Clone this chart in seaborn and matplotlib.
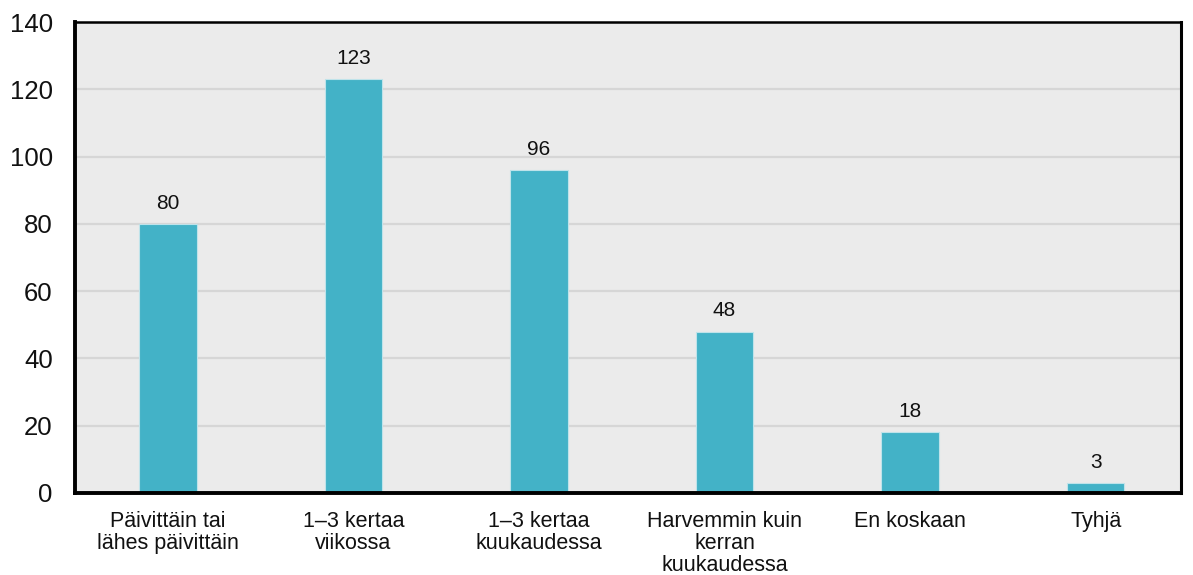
import matplotlib
matplotlib.use("Agg")
import matplotlib.pyplot as plt
import seaborn as sns
import pandas as pd

categories = [
    "Päivittäin tai\nlähes päivittäin",
    "1–3 kertaa\nviikossa",
    "1–3 kertaa\nkuukaudessa",
    "Harvemmin kuin\nkerran\nkuukaudessa",
    "En koskaan",
    "Tyhjä",
]
values = [80, 123, 96, 48, 18, 3]
y_ticks = [0, 20, 40, 60, 80, 100, 120, 140]

bar_color = "#43B2C7"

sns.set_theme(style="darkgrid")
plt.rcParams["font.family"] = ["Liberation Sans", "DejaVu Sans"]

df = pd.DataFrame({"kategoria": categories, "määrä": values})

fig = plt.figure(figsize=(11.93, 5.75), dpi=100)
ax = fig.add_axes([75 / 1193, 1 - 493 / 575, (1181 - 75) / 1193, (493 - 22) / 575])
ax.set_facecolor("#EBEBEB")

sns.barplot(data=df, x="kategoria", y="määrä", color=bar_color, width=0.31,
            saturation=1, edgecolor="#BFE3EA", linewidth=0.8, ax=ax, zorder=3)

for i, v in enumerate(values):
    ax.annotate(str(v), (i, v), xytext=(0, 11), textcoords="offset points",
                ha="center", va="baseline", fontsize=15, color="#111111")

ax.set_ylim(0, 140)
ax.set_xlim(-0.5, 5.46)
ax.set_yticks(y_ticks)
ax.set_yticklabels([str(t) for t in y_ticks], fontsize=18.5)
ax.tick_params(axis="y", direction="in", length=6, width=2, color="black",
               pad=16, labelcolor="#111111")
ax.tick_params(axis="x", length=0, pad=13, labelsize=15.5, labelcolor="#111111")
for lab in ax.get_xticklabels():
    lab.set_linespacing(1.05)
    lab.set_verticalalignment("top")

ax.grid(axis="y", color="#D6D6D6", linewidth=1.6, zorder=0)
ax.grid(axis="x", visible=False)
ax.set_axisbelow(True)

for side, lw in {"left": 2.8, "bottom": 2.8, "top": 1.8, "right": 2.2}.items():
    ax.spines[side].set_visible(True)
    ax.spines[side].set_color("black")
    ax.spines[side].set_linewidth(lw)
    ax.spines[side].set_zorder(5)

ax.set_xlabel("")
ax.set_ylabel("")

fig.savefig("out.png", dpi=100, facecolor="white")
